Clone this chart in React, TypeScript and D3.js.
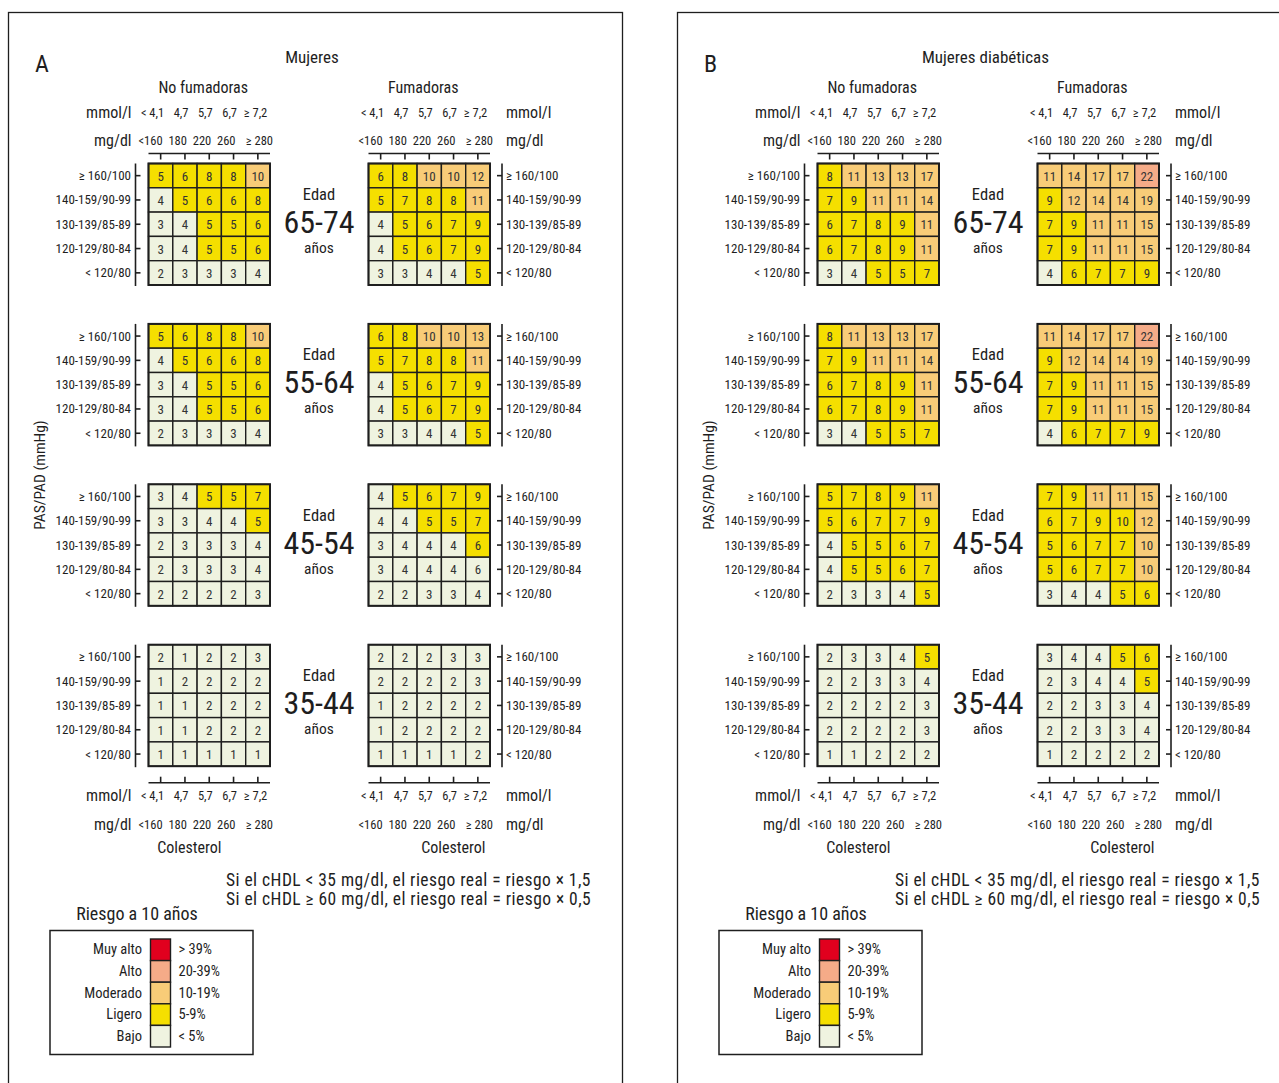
import * as d3 from "d3";

// cholesterol categories (columns) and blood pressure categories (rows)
const cholMmol = ["< 4,1", "4,7", "5,7", "6,7", "≥ 7,2"];
const cholMg = ["<160", "180", "220", "260", "≥ 280"];
const bpLabels = ["≥ 160/100", "140-159/90-99", "130-139/85-89", "120-129/80-84", "< 120/80"];
const ageGroups = ["65-74", "55-64", "45-54", "35-44"];

// 10-year risk (%), rows = blood pressure, cols = cholesterol
const womenNonSmoker = [
  [[5, 6, 8, 8, 10], [4, 5, 6, 6, 8], [3, 4, 5, 5, 6], [3, 4, 5, 5, 6], [2, 3, 3, 3, 4]],
  [[5, 6, 8, 8, 10], [4, 5, 6, 6, 8], [3, 4, 5, 5, 6], [3, 4, 5, 5, 6], [2, 3, 3, 3, 4]],
  [[3, 4, 5, 5, 7], [3, 3, 4, 4, 5], [2, 3, 3, 3, 4], [2, 3, 3, 3, 4], [2, 2, 2, 2, 3]],
  [[2, 1, 2, 2, 3], [1, 2, 2, 2, 2], [1, 1, 2, 2, 2], [1, 1, 2, 2, 2], [1, 1, 1, 1, 1]],
];
const womenSmoker = [
  [[6, 8, 10, 10, 12], [5, 7, 8, 8, 11], [4, 5, 6, 7, 9], [4, 5, 6, 7, 9], [3, 3, 4, 4, 5]],
  [[6, 8, 10, 10, 13], [5, 7, 8, 8, 11], [4, 5, 6, 7, 9], [4, 5, 6, 7, 9], [3, 3, 4, 4, 5]],
  [[4, 5, 6, 7, 9], [4, 4, 5, 5, 7], [3, 4, 4, 4, 6], [3, 4, 4, 4, 6], [2, 2, 3, 3, 4]],
  [[2, 2, 2, 3, 3], [2, 2, 2, 2, 3], [1, 2, 2, 2, 2], [1, 2, 2, 2, 2], [1, 1, 1, 1, 2]],
];
const diabNonSmoker = [
  [[8, 11, 13, 13, 17], [7, 9, 11, 11, 14], [6, 7, 8, 9, 11], [6, 7, 8, 9, 11], [3, 4, 5, 5, 7]],
  [[8, 11, 13, 13, 17], [7, 9, 11, 11, 14], [6, 7, 8, 9, 11], [6, 7, 8, 9, 11], [3, 4, 5, 5, 7]],
  [[5, 7, 8, 9, 11], [5, 6, 7, 7, 9], [4, 5, 5, 6, 7], [4, 5, 5, 6, 7], [2, 3, 3, 4, 5]],
  [[2, 3, 3, 4, 5], [2, 2, 3, 3, 4], [2, 2, 2, 2, 3], [2, 2, 2, 2, 3], [1, 1, 2, 2, 2]],
];
const diabSmoker = [
  [[11, 14, 17, 17, 22], [9, 12, 14, 14, 19], [7, 9, 11, 11, 15], [7, 9, 11, 11, 15], [4, 6, 7, 7, 9]],
  [[11, 14, 17, 17, 22], [9, 12, 14, 14, 19], [7, 9, 11, 11, 15], [7, 9, 11, 11, 15], [4, 6, 7, 7, 9]],
  [[7, 9, 11, 11, 15], [6, 7, 9, 10, 12], [5, 6, 7, 7, 10], [5, 6, 7, 7, 10], [3, 4, 4, 5, 6]],
  [[3, 4, 4, 5, 6], [2, 3, 4, 4, 5], [2, 2, 3, 3, 4], [2, 2, 3, 3, 4], [1, 2, 2, 2, 2]],
];

// cells whose colour in the original does not follow the value
const levelOverrides = [
  { panel: 0, age: 2, smoker: true, row: 3, col: 4, level: 0 },
  { panel: 1, age: 2, smoker: true, row: 1, col: 3, level: 1 },
];

const riskNames = ["Bajo", "Ligero", "Moderado", "Alto", "Muy alto"];
const riskRanges = ["< 5%", "5-9%", "10-19%", "20-39%", "> 39%"];
const riskThresholds = [5, 10, 20, 40];
const riskColors = ["#eff3e0", "#f5df00", "#f8cc78", "#f5ab88", "#e1001e"];

const hdlNotes = [
  "Si el cHDL < 35 mg/dl, el riesgo real = riesgo × 1,5",
  "Si el cHDL ≥ 60 mg/dl, el riesgo real = riesgo × 0,5",
];

const panels = [
  { letter: "A", title: "Mujeres", non: womenNonSmoker, smk: womenSmoker },
  { letter: "B", title: "Mujeres diabéticas", non: diabNonSmoker, smk: diabSmoker },
];

const FONT = "'Roboto Condensed','Liberation Sans Narrow','DejaVu Sans Condensed',Roboto,sans-serif";
const INK = "#1e1e1e";

const W = 1279;
const H = 1083;
const panelShift = 669;
const gridW = 121.5;
const gridH = 121.5;
const nonX = 148.5;
const smkX = 368.5;
const top0 = 163.5;
const blockStep = 160.4;

const levelOf = d3.scaleThreshold<number, number>().domain(riskThresholds).range([0, 1, 2, 3, 4]);

function Grid({ x0, y0, values, panel, age, smoker }: any) {
  const xs = d3.scaleBand<number>().domain(d3.range(5)).range([x0, x0 + gridW]);
  const ys = d3.scaleBand<number>().domain(d3.range(5)).range([y0, y0 + gridH]);
  return (
    <g>
      {values.map((row: number[], r: number) =>
        row.map((v, c) => {
          const ov = levelOverrides.find(
            (o) => o.panel === panel && o.age === age && o.smoker === smoker && o.row === r && o.col === c
          );
          const lvl = ov ? ov.level : levelOf(v);
          return (
            <g key={`${r}-${c}`}>
              <rect
                x={xs(c)}
                y={ys(r)}
                width={xs.bandwidth()}
                height={ys.bandwidth()}
                fill={riskColors[lvl]}
                stroke={INK}
                strokeWidth={1.4}
              />
              <text
                x={xs(c)! + xs.bandwidth() / 2}
                y={ys(r)! + ys.bandwidth() / 2 + 0.5}
                textAnchor="middle"
                dominantBaseline="central"
                fontSize={13}
                fill="#333"
              >
                {v}
              </text>
            </g>
          );
        })
      )}
      <rect x={x0} y={y0} width={gridW} height={gridH} fill="none" stroke={INK} strokeWidth={2} />
    </g>
  );
}

function CholAxis({ x0, y, side, down, mmolY, mgY }: any) {
  const xs = d3.scaleBand<number>().domain(d3.range(5)).range([x0, x0 + gridW]);
  const cx = (i: number) => xs(i)! + xs.bandwidth() / 2;
  const tickEnd = down ? y + 6 : y - 6;
  const unitX = side === "left" ? x0 - 17 : x0 + gridW + 16;
  const unitAnchor = side === "left" ? "end" : "start";
  return (
    <g>
      <line x1={x0} x2={x0 + gridW} y1={y} y2={y} stroke={INK} strokeWidth={1.6} />
      {xs.domain().map((i) => (
        <line key={i} x1={cx(i)} x2={cx(i)} y1={y} y2={tickEnd} stroke={INK} strokeWidth={1.6} />
      ))}
      {cholMmol.map((t, i) => (
        <text
          key={"m" + i}
          x={i < 4 ? cx(i) + 3.5 : cx(i) - 14}
          y={mmolY}
          textAnchor={i < 4 ? "end" : "start"}
          dominantBaseline="central"
          fontSize={12.5}
        >
          {t}
        </text>
      ))}
      {cholMg.map((t, i) => (
        <text
          key={"g" + i}
          x={i < 4 ? cx(i) + 2 : cx(i) - 12}
          y={mgY}
          textAnchor={i < 4 ? "end" : "start"}
          dominantBaseline="central"
          fontSize={12.5}
        >
          {t}
        </text>
      ))}
      <text x={unitX} y={mmolY} textAnchor={unitAnchor} dominantBaseline="central" fontSize={16}>
        mmol/l
      </text>
      <text x={unitX} y={mgY} textAnchor={unitAnchor} dominantBaseline="central" fontSize={16}>
        mg/dl
      </text>
    </g>
  );
}

function BpAxis({ y0, side }: any) {
  const ys = d3.scaleBand<number>().domain(d3.range(5)).range([y0, y0 + gridH]);
  const lx = side === "left" ? 135.5 : 502;
  const tx = side === "left" ? lx + 5 : lx - 5;
  return (
    <g>
      <line x1={lx} x2={lx} y1={y0} y2={y0 + gridH + 1} stroke={INK} strokeWidth={1.6} />
      {bpLabels.map((b, r) => {
        const cy = ys(r)! + ys.bandwidth() / 2;
        return (
          <g key={r}>
            <line x1={lx} x2={tx} y1={cy} y2={cy} stroke={INK} strokeWidth={1.6} />
            <text
              x={side === "left" ? lx - 4.5 : lx + 4}
              y={cy}
              textAnchor={side === "left" ? "end" : "start"}
              dominantBaseline="central"
              fontSize={13}
            >
              {b}
            </text>
          </g>
        );
      })}
    </g>
  );
}

function Panel({ p, index }: any) {
  const ox = index * panelShift;
  const lastTop = top0 + 3 * blockStep;
  const axisBottomY = lastTop + gridH + 16.5;
  return (
    <g transform={`translate(${ox},0)`}>
      <rect x={8.5} y={12.5} width={index === 0 ? 614 : 700} height={H + 20} fill="none" stroke={INK} strokeWidth={1.3} />
      <text x={35} y={64} dominantBaseline="central" fontSize={24}>
        {p.letter}
      </text>
      <text x={index === 0 ? 312 : 316.5} y={57} textAnchor="middle" dominantBaseline="central" fontSize={17}>
        {p.title}
      </text>
      <text x={nonX + gridW / 2 - 6} y={87} textAnchor="middle" dominantBaseline="central" fontSize={16}>
        No fumadoras
      </text>
      <text x={smkX + gridW / 2 - 6} y={87} textAnchor="middle" dominantBaseline="central" fontSize={16}>
        Fumadoras
      </text>
      <CholAxis x0={nonX} y={153.5} side="left" down mmolY={112} mgY={140} />
      <CholAxis x0={smkX} y={153.5} side="right" down mmolY={112} mgY={140} />
      <CholAxis x0={nonX} y={axisBottomY} side="left" down={false} mmolY={795} mgY={824} />
      <CholAxis x0={smkX} y={axisBottomY} side="right" down={false} mmolY={795} mgY={824} />
      <text x={nonX + gridW / 2 - 20} y={847} textAnchor="middle" dominantBaseline="central" fontSize={16}>
        Colesterol
      </text>
      <text x={smkX + gridW / 2 + 24} y={847} textAnchor="middle" dominantBaseline="central" fontSize={16}>
        Colesterol
      </text>
      <text
        transform={`translate(40,${475}) rotate(-90)`}
        textAnchor="middle"
        dominantBaseline="central"
        fontSize={15.5}
      >
        PAS/PAD (mmHg)
      </text>
      {ageGroups.map((a, i) => {
        const t = top0 + i * blockStep;
        return (
          <g key={a}>
            <BpAxis y0={t} side="left" />
            <BpAxis y0={t} side="right" />
            <Grid x0={nonX} y0={t} values={p.non[i]} panel={index} age={i} smoker={false} />
            <Grid x0={smkX} y0={t} values={p.smk[i]} panel={index} age={i} smoker={true} />
            <text x={319} y={t + 31} textAnchor="middle" dominantBaseline="central" fontSize={16.5}>
              Edad
            </text>
            <text x={319} y={t + 58.5} textAnchor="middle" dominantBaseline="central" fontSize={32}>
              {a}
            </text>
            <text x={319} y={t + 84.5} textAnchor="middle" dominantBaseline="central" fontSize={15.5}>
              años
            </text>
          </g>
        );
      })}
      {hdlNotes.map((n, i) => (
        <text key={i} x={226} y={879.5 + i * 19.5} dominantBaseline="central" fontSize={17.5} letterSpacing={0.45}>
          {n}
        </text>
      ))}
      <text x={137} y={913} textAnchor="middle" dominantBaseline="central" fontSize={18}>
        Riesgo a 10 años
      </text>
      <Legend />
    </g>
  );
}

function Legend() {
  const order = d3.range(riskNames.length).reverse();
  const ys = d3.scaleBand<number>().domain(order).range([939, 1047]);
  return (
    <g>
      <rect x={50} y={930.5} width={203} height={124} fill="#fff" stroke={INK} strokeWidth={1.5} />
      {order.map((k) => (
        <g key={k}>
          <rect x={150.5} y={ys(k)} width={20} height={ys.bandwidth()} fill={riskColors[k]} stroke={INK} strokeWidth={1.4} />
          <text x={142} y={ys(k)! + ys.bandwidth() / 2} textAnchor="end" dominantBaseline="central" fontSize={14.5}>
            {riskNames[k]}
          </text>
          <text x={178.5} y={ys(k)! + ys.bandwidth() / 2} dominantBaseline="central" fontSize={14.5}>
            {riskRanges[k]}
          </text>
        </g>
      ))}
    </g>
  );
}

export default function App() {
  return (
    <svg
      width={W}
      height={H}
      viewBox={`0 0 ${W} ${H}`}
      style={{ position: "absolute", left: 0, top: 0, background: "#fff" }}
      fontFamily={FONT}
      fill={INK}
    >
      {panels.map((p, i) => (
        <Panel key={p.letter} p={p} index={i} />
      ))}
    </svg>
  );
}
